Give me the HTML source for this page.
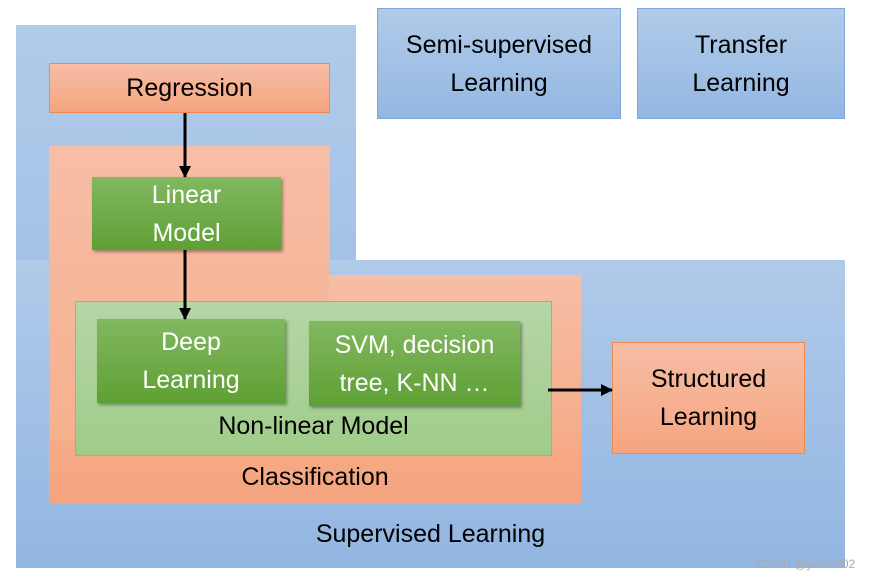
<!DOCTYPE html>
<html><head><style>
body{margin:0;width:880px;height:583px;background:#fff;position:relative;overflow:hidden;font-family:"Liberation Sans",sans-serif;}
.a{position:absolute;box-sizing:border-box;}
.blue{background:linear-gradient(#b1cbe9,#94b7e2);}
.bb{border:1px solid #7ea6d8;}
.or{background:linear-gradient(#f7bea6,#f5a57f);}
.ob{border:1px solid #ef8a4f;}
.gr{background:linear-gradient(#82b861,#5ea033);box-shadow:2px 2px 3px rgba(0,0,0,.35);color:#fff;}
.t{display:flex;align-items:center;justify-content:center;text-align:center;font-size:25px;line-height:38px;color:#000;}
.gr.t{color:#fff;}
.lbl{position:absolute;font-size:25px;color:#000;text-align:center;}
</style></head><body>
<div class="a blue" style="left:16px;top:25px;width:340px;height:240px;background:linear-gradient(#b1cbe9,#a4c2e7);"></div>
<div class="a blue" style="left:16px;top:260px;width:829px;height:308px;background:linear-gradient(#b0cae9,#92b6e2);"></div>
<div class="a blue bb t" style="left:377px;top:8px;width:244px;height:111px;">Semi-supervised<br>Learning</div>
<div class="a blue bb t" style="left:637px;top:8px;width:208px;height:111px;">Transfer<br>Learning</div>
<div class="a or ob t" style="left:49px;top:63px;width:281px;height:50px;">Regression</div>
<div class="a" style="left:49px;top:146px;width:281px;height:357px;background:linear-gradient(#f7bea6 0%,#f5ad8a 100%);"></div>
<div class="a" style="left:329px;top:275px;width:252px;height:228px;background:linear-gradient(#f7bea6,#f5a57f);"></div>
<div class="a" style="left:49px;top:440px;width:532px;height:63px;background:linear-gradient(#f6aa86,#f5a57f);"></div>
<div class="a gr t" style="left:92px;top:177px;width:189px;height:73px;">Linear<br>Model</div>
<div class="a" style="left:75px;top:301px;width:477px;height:155px;background:linear-gradient(#b5d6a6,#a0cc8a);border:1px solid #8dc06e;"></div>
<div class="a gr t" style="left:97px;top:319px;width:188px;height:84px;">Deep<br>Learning</div>
<div class="a gr t" style="left:309px;top:321px;width:211px;height:85px;">SVM, decision<br>tree, K-NN …</div>
<div class="lbl" style="left:75px;top:412px;width:477px;">Non-linear Model</div>
<div class="lbl" style="left:49px;top:463px;width:532px;">Classification</div>
<div class="lbl" style="left:16px;top:520px;width:829px;">Supervised Learning</div>
<div class="a or ob t" style="left:612px;top:342px;width:193px;height:112px;">Structured<br>Learning</div>
<svg class="a" style="left:0;top:0" width="880" height="583">
<defs><marker id="m" markerWidth="12" markerHeight="12" refX="11" refY="6" orient="auto" markerUnits="userSpaceOnUse"><path d="M0,0L12,6L0,12z" fill="#000"/></marker></defs>
<line x1="185" y1="113" x2="185" y2="177" stroke="#000" stroke-width="3" marker-end="url(#m)"/>
<line x1="185" y1="250" x2="185" y2="319" stroke="#000" stroke-width="3" marker-end="url(#m)"/>
<line x1="548" y1="390" x2="612" y2="390" stroke="#000" stroke-width="3" marker-end="url(#m)"/>
</svg>
<div class="a" style="left:757px;top:557px;font-size:12px;color:#aaa;">CSDN @yutc0202</div>
</body></html>
